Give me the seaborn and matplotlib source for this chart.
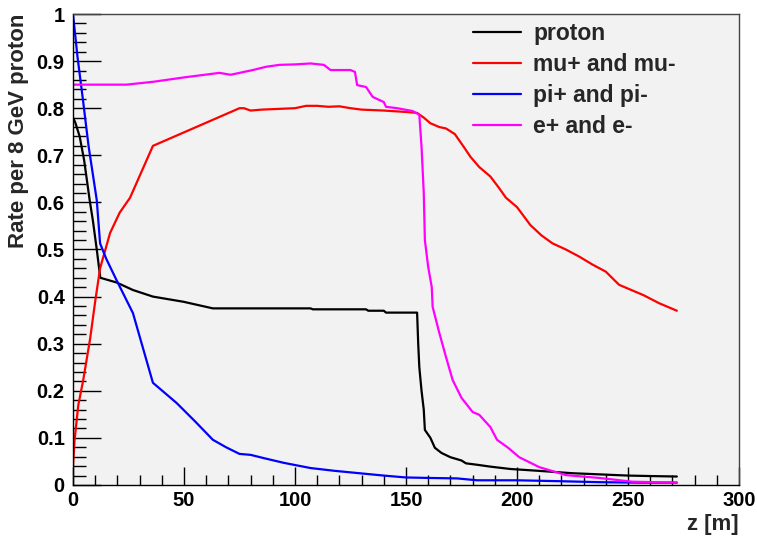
import numpy as np
import pandas as pd
import matplotlib
matplotlib.use("Agg")
import matplotlib.pyplot as plt
import seaborn as sns
from matplotlib.ticker import MultipleLocator, FuncFormatter

# ---- data ----
series_names = ["proton", "mu+ and mu-", "pi+ and pi-", "e+ and e-"]
series_colors = ["#000000", "#ff0000", "#0000ff", "#ff00ff"]

z_proton = [0, 1, 3, 5, 7.5, 9, 10.7, 12.3, 19.6, 27, 36, 49.8, 63, 80, 107, 108,
            132, 133, 140, 141, 155, 155.5, 156, 157, 158, 158.5, 161, 163, 166,
            170, 175, 177, 182, 188, 197, 210, 225, 240, 250, 260, 272]
rate_proton = [0.78, 0.77, 0.74, 0.69, 0.605, 0.56, 0.50, 0.44, 0.43, 0.414, 0.40,
               0.389, 0.375, 0.375, 0.375, 0.373, 0.373, 0.370, 0.370, 0.366,
               0.366, 0.30, 0.25, 0.20, 0.16, 0.117, 0.10, 0.079, 0.068, 0.059,
               0.052, 0.046, 0.043, 0.039, 0.034, 0.030, 0.025, 0.022, 0.020,
               0.019, 0.018]

z_mu = [0, 0.7, 2.4, 4.5, 7.7, 10, 12.2, 16.7, 21, 25.7, 36, 75, 77, 80, 85, 90,
        100, 105, 110, 115, 120, 125, 130, 140, 150, 155, 158, 161, 165, 168,
        172, 176, 179, 183, 188, 192, 195, 200, 206, 211, 216, 222, 228, 234,
        240, 246, 251, 257, 264, 268, 272]
rate_mu = [0.04, 0.095, 0.17, 0.22, 0.31, 0.39, 0.46, 0.535, 0.578, 0.61, 0.72,
           0.80, 0.80, 0.795, 0.797, 0.798, 0.80, 0.805, 0.805, 0.803, 0.804,
           0.80, 0.797, 0.795, 0.792, 0.79, 0.78, 0.768, 0.76, 0.757, 0.745,
           0.718, 0.697, 0.675, 0.655, 0.63, 0.61, 0.59, 0.552, 0.53, 0.513,
           0.50, 0.485, 0.468, 0.453, 0.425, 0.415, 0.403, 0.386, 0.378, 0.37]

z_pi = [0, 2, 4.5, 7, 10.7, 12.2, 15, 19.6, 27, 36, 46.7, 55, 63, 69, 75, 80,
        86, 95, 107, 118, 129, 140, 150, 160, 173, 182, 200, 220, 237, 255, 272]
rate_pi = [1.0, 0.91, 0.817, 0.72, 0.605, 0.513, 0.48, 0.435, 0.365, 0.217,
           0.174, 0.135, 0.096, 0.08, 0.066, 0.064, 0.057, 0.047, 0.036, 0.03,
           0.025, 0.02, 0.016, 0.015, 0.014, 0.01, 0.01, 0.008, 0.006, 0.005,
           0.005]

z_e = [0, 24, 36, 51, 66, 71, 75, 81, 87, 93, 100, 107, 113, 116, 125, 127, 128,
       132, 135, 140, 141, 146, 153, 156, 157, 158, 158.5, 160, 161.6, 162, 165,
       168, 171, 175, 180, 183, 188, 191, 196, 201, 210, 222, 237, 252, 272]
rate_e = [0.85, 0.85, 0.856, 0.866, 0.875, 0.871, 0.875, 0.881, 0.888, 0.892,
          0.893, 0.895, 0.892, 0.881, 0.881, 0.877, 0.849, 0.845, 0.824, 0.813,
          0.803, 0.80, 0.794, 0.786, 0.718, 0.62, 0.52, 0.463, 0.42, 0.378,
          0.323, 0.272, 0.223, 0.185, 0.155, 0.149, 0.123, 0.096, 0.079, 0.059,
          0.038, 0.021, 0.015, 0.007, 0.005]

x_label = "z [m]"
y_label = "Rate per 8 GeV proton"

# ---- build long-form table ----
frames = []
for name, zs, rs in zip(series_names,
                        [z_proton, z_mu, z_pi, z_e],
                        [rate_proton, rate_mu, rate_pi, rate_e]):
    frames.append(pd.DataFrame({"z": zs, "rate": rs, "species": name}))
df = pd.concat(frames, ignore_index=True)

sns.set_theme(style="ticks")
plt.rcParams["font.family"] = ["Liberation Sans", "DejaVu Sans"]
plt.rcParams["font.weight"] = "bold"

fig = plt.figure(figsize=(7.57, 5.37), dpi=100)
fig.patch.set_facecolor("white")
ax = fig.add_axes([73 / 757, 52 / 537, 666 / 757, 471 / 537])
ax.set_facecolor("#f2f2f2")

sns.lineplot(data=df, x="z", y="rate", hue="species", units="species",
             hue_order=series_names, palette=series_colors, sort=False,
             estimator=None, linewidth=1.6, ax=ax, legend=False)

ax.set_xlim(0, 300)
ax.set_ylim(0, 1)
ax.xaxis.set_major_locator(MultipleLocator(50))
ax.xaxis.set_minor_locator(MultipleLocator(10))
ax.yaxis.set_major_locator(MultipleLocator(0.1))
ax.yaxis.set_minor_locator(MultipleLocator(0.02))
ax.yaxis.set_major_formatter(FuncFormatter(lambda v, p: f"{v:g}"))
ax.xaxis.set_major_formatter(FuncFormatter(lambda v, p: f"{v:g}"))

ax.tick_params(axis="both", which="both", direction="in", color="black",
               width=1, labelsize=14.5, labelcolor="black")
ax.tick_params(axis="x", which="major", length=13, pad=4.5)
ax.tick_params(axis="x", which="minor", length=7)
ax.tick_params(axis="y", which="major", length=20, pad=6)
ax.tick_params(axis="y", which="minor", length=9)
ax.tick_params(top=False, right=False, which="both")
for lab in ax.get_xticklabels() + ax.get_yticklabels():
    lab.set_fontweight("bold")

for side, s in ax.spines.items():
    s.set_color("black" if side in ("left", "bottom") else "#444444")
    s.set_linewidth(1)
    s.set_visible(True)

ax.set_xlabel(x_label, fontsize=16, fontweight="bold", loc="right")
ax.xaxis.set_label_coords(1.0, -0.062)
ax.set_ylabel(y_label, fontsize=16, fontweight="bold", loc="top")
ax.yaxis.set_label_coords(-0.066, 1.0)

handles = [plt.Line2D([], [], color=c, lw=1.6) for c in series_colors]
leg = ax.legend(handles, series_names, loc="upper left",
                bbox_to_anchor=(0.587, 1.003), frameon=False,
                prop={"size": 16.5, "weight": "bold"}, handlelength=2.1,
                handletextpad=0.52, labelspacing=0.35, borderaxespad=0)

fig.savefig("out.png", dpi=100)
